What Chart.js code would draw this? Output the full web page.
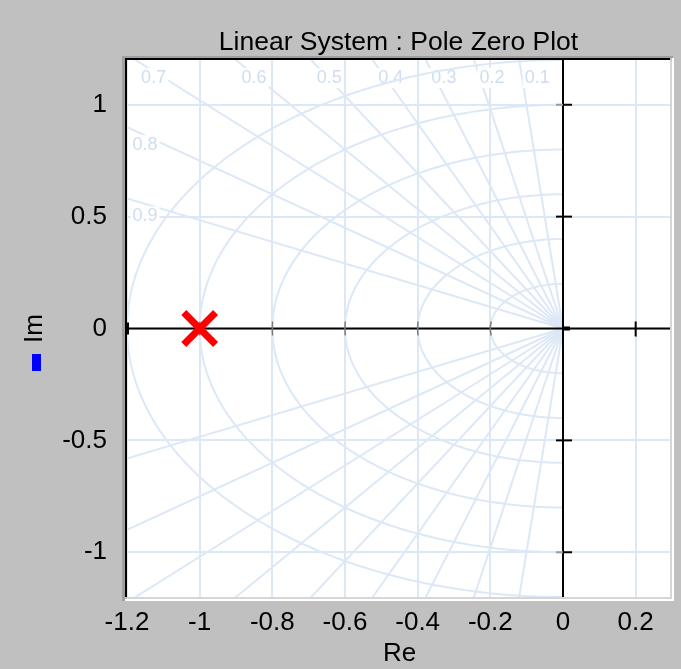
<!DOCTYPE html>
<html>
<head>
<meta charset="utf-8">
<script src="https://cdn.jsdelivr.net/npm/chart.js@4/dist/chart.umd.min.js"></script>
<style>
  html, body { margin: 0; padding: 0; background: #c0c0c0; overflow: hidden; }
  #c { display: block; }
</style>
</head>
<body>
<canvas id="c" width="681" height="669"></canvas>
<script>
// Labels
const TITLE = 'Linear System : Pole Zero Plot';
const X_LABEL = 'Re';
const Y_LABEL = 'Im';

// Axis ranges and tick values
const X_RANGE = [-1.2, 0.3];
const Y_RANGE = [-1.2, 1.2];
const X_TICKS = [-1.2, -1, -0.8, -0.6, -0.4, -0.2, 0, 0.2];
const Y_TICKS = [-1, -0.5, 0, 0.5, 1];

// Poles of the system
const POLE_RE = [-1];
const POLE_IM = [0];

// s-plane grid: damping ratios and natural frequencies
const DAMPING = [0.1, 0.2, 0.3, 0.4, 0.5, 0.6, 0.7, 0.8, 0.9];
const NAT_FREQ = [0.2, 0.4, 0.6, 0.8, 1.0, 1.2];

const FONT = '"Liberation Sans", Arial, sans-serif';
const GRID_BLUE = '#dde8f7';
const LABEL_BLUE = '#cfdcf1';

const fmt = v => String(Math.round(v * 10) / 10);

const sPlanePlugin = {
  id: 'sPlane',
  beforeDraw(chart) {
    const { ctx, chartArea: a } = chart;
    ctx.save();
    ctx.fillStyle = '#c0c0c0';
    ctx.fillRect(0, 0, chart.width, chart.height);
    ctx.fillStyle = '#ffffff';
    ctx.fillRect(a.left, a.top, a.right - a.left, a.bottom - a.top);
    ctx.restore();
  },
  beforeDatasetsDraw(chart) {
    const { ctx, chartArea: a, scales: { x, y } } = chart;
    const X = v => x.getPixelForValue(v);
    const Y = v => y.getPixelForValue(v);
    const x0 = X(0), y0 = Y(0);

    ctx.save();
    ctx.beginPath();
    ctx.rect(a.left, a.top, a.right - a.left, a.bottom - a.top);
    ctx.clip();

    // constant-damping rays
    ctx.strokeStyle = GRID_BLUE;
    ctx.lineWidth = 2;
    DAMPING.forEach(z => {
      const s = Math.sqrt(1 - z * z);
      [1, -1].forEach(sg => {
        ctx.beginPath();
        ctx.moveTo(x0, y0);
        ctx.lineTo(X(-z * 5), Y(sg * s * 5));
        ctx.stroke();
      });
    });

    // damping labels with a white backing
    ctx.font = '18px ' + FONT;
    ctx.textAlign = 'center';
    ctx.textBaseline = 'middle';
    DAMPING.forEach(z => {
      const s = Math.sqrt(1 - z * z);
      const tTop = Y_RANGE[1] / s;
      let px, py;
      if (-z * tTop >= X_RANGE[0]) {
        px = X(-z * tTop); py = a.top;
      } else {
        const tLeft = -X_RANGE[0] / z;
        px = a.left; py = Y(s * tLeft);
      }
      const cx = px + 18, cy = py + 18;
      const label = String(z);
      const w = ctx.measureText(label).width;
      ctx.fillStyle = '#ffffff';
      ctx.fillRect(cx - w / 2 - 2, cy - 10, w + 4, 20);
      ctx.fillStyle = LABEL_BLUE;
      ctx.fillText(label, cx, cy);
    });

    // constant natural-frequency arcs (left half-plane)
    ctx.strokeStyle = GRID_BLUE;
    ctx.lineWidth = 2;
    NAT_FREQ.forEach(wn => {
      ctx.beginPath();
      for (let i = 0; i <= 240; i++) {
        const t = Math.PI / 2 + Math.PI * i / 240;
        const px = X(wn * Math.cos(t)), py = Y(wn * Math.sin(t));
        if (i === 0) ctx.moveTo(px, py); else ctx.lineTo(px, py);
      }
      ctx.stroke();
    });
    ctx.restore();

    // real and imaginary axes
    ctx.save();
    ctx.fillStyle = '#000000';
    ctx.fillRect(a.left, y0 - 1, a.right - a.left, 2);
    ctx.fillRect(x0 - 1, a.top, 2, a.bottom - a.top);
    ctx.fillRect(x0, y0 - 2, 7, 4);
    ctx.fillRect(a.left - 1, y0 - 6, 3, 12);

    // arc crossings on the real axis
    ctx.strokeStyle = '#7a7a7a';
    ctx.lineWidth = 1.5;
    NAT_FREQ.forEach(wn => {
      if (X(-wn) <= a.left + 2) return;
      const d = Math.asin(Math.min(1, (7 / Math.abs(Y(1) - y0)) / wn));
      ctx.beginPath();
      for (let i = 0; i <= 10; i++) {
        const t = Math.PI - d + 2 * d * i / 10;
        const px = X(wn * Math.cos(t)), py = Y(wn * Math.sin(t));
        if (i === 0) ctx.moveTo(px, py); else ctx.lineTo(px, py);
      }
      ctx.stroke();
    });

    // tick marks on the imaginary axis
    ctx.fillStyle = '#000000';
    [0.5, -0.5].forEach(v => ctx.fillRect(x0 - 7, Y(v) - 1, 16, 2));
    [1, -1].forEach(v => {
      ctx.fillStyle = '#9a9a9a';
      ctx.fillRect(x0 - 7, Y(v) - 1, 7, 2);
      ctx.fillStyle = '#000000';
      ctx.fillRect(x0, Y(v) - 1, 9, 2);
    });
    // tick mark on the positive real axis
    X_TICKS.filter(v => v > 0).forEach(v => ctx.fillRect(X(v) - 1, y0 - 7, 2, 15));
    ctx.restore();
  },
  afterDraw(chart) {
    const { ctx, chartArea: a } = chart;
    ctx.save();
    // sunken frame round the plot area
    ctx.fillStyle = '#a0a0a0';
    ctx.fillRect(a.left - 5, a.top - 4, 3, a.bottom - a.top + 8);
    ctx.fillRect(a.left - 5, a.top - 4, a.right - a.left + 6, 2);
    ctx.fillStyle = '#000000';
    ctx.fillRect(a.left - 2, a.top - 2, 2, a.bottom - a.top + 2);
    ctx.fillRect(a.left - 2, a.top - 2, a.right - a.left, 2);
    ctx.fillStyle = '#d6d6d6';
    ctx.fillRect(a.left, a.bottom, a.right - a.left - 2, 2);
    ctx.fillRect(a.right - 2, a.top, 2, a.bottom - a.top + 2);
    ctx.fillStyle = '#ffffff';
    ctx.fillRect(a.left - 2, a.bottom + 2, a.right - a.left + 2, 2);
    ctx.fillRect(a.right, a.top - 2, 2, a.bottom - a.top + 6);

    // chart title
    ctx.fillStyle = '#000000';
    ctx.font = '26.5px ' + FONT;
    ctx.textAlign = 'center';
    ctx.textBaseline = 'middle';
    ctx.fillText(TITLE, (a.left + a.right) / 2 - 1, 43);

    // series swatch under the axis title
    ctx.fillStyle = '#0000ff';
    ctx.fillRect(32, 354, 9, 17);
    ctx.restore();
  }
};

new Chart(document.getElementById('c'), {
  type: 'scatter',
  data: {
    datasets: [{
      label: 'Poles',
      data: POLE_RE.map((re, i) => ({ x: re, y: POLE_IM[i] })),
      pointStyle: 'crossRot',
      pointRadius: 22.5,
      pointHoverRadius: 22.5,
      borderWidth: 7,
      borderColor: '#ff0000',
      backgroundColor: '#ff0000'
    }]
  },
  options: {
    responsive: false,
    maintainAspectRatio: false,
    devicePixelRatio: 1,
    animation: false,
    events: [],
    layout: { autoPadding: false, padding: { top: 60, right: 9, left: 0, bottom: 0 } },
    plugins: {
      legend: { display: false },
      title: { display: false },
      tooltip: { enabled: false }
    },
    scales: {
      x: {
        type: 'linear',
        min: X_RANGE[0],
        max: X_RANGE[1],
        afterBuildTicks: s => { s.ticks = X_TICKS.map(v => ({ value: v })); },
        afterFit: s => { s.height = 72; s.paddingLeft = 0; s.paddingRight = 0; },
        grid: { color: GRID_BLUE, lineWidth: 2, drawTicks: false },
        border: { display: false },
        ticks: {
          autoSkip: false, maxRotation: 0, padding: 10,
          color: '#000000', font: { family: FONT, size: 26 },
          callback: v => fmt(v)
        },
        title: {
          display: true, text: X_LABEL, color: '#000000',
          font: { family: FONT, size: 26 }, padding: { top: 0, bottom: 0 }
        }
      },
      y: {
        type: 'linear',
        min: Y_RANGE[0],
        max: Y_RANGE[1],
        afterBuildTicks: s => { s.ticks = Y_TICKS.map(v => ({ value: v })); },
        afterFit: s => { s.width = 127; s.paddingTop = 0; s.paddingBottom = 0; },
        grid: { color: GRID_BLUE, lineWidth: 2, drawTicks: false },
        border: { display: false },
        ticks: {
          autoSkip: false, padding: 20,
          color: '#000000', font: { family: FONT, size: 26 },
          callback: v => fmt(v)
        },
        title: {
          display: true, text: Y_LABEL, color: '#000000',
          font: { family: FONT, size: 26 }, padding: { top: 19, bottom: 0 }
        }
      }
    }
  },
  plugins: [sPlanePlugin]
});
</script>
</body>
</html>
